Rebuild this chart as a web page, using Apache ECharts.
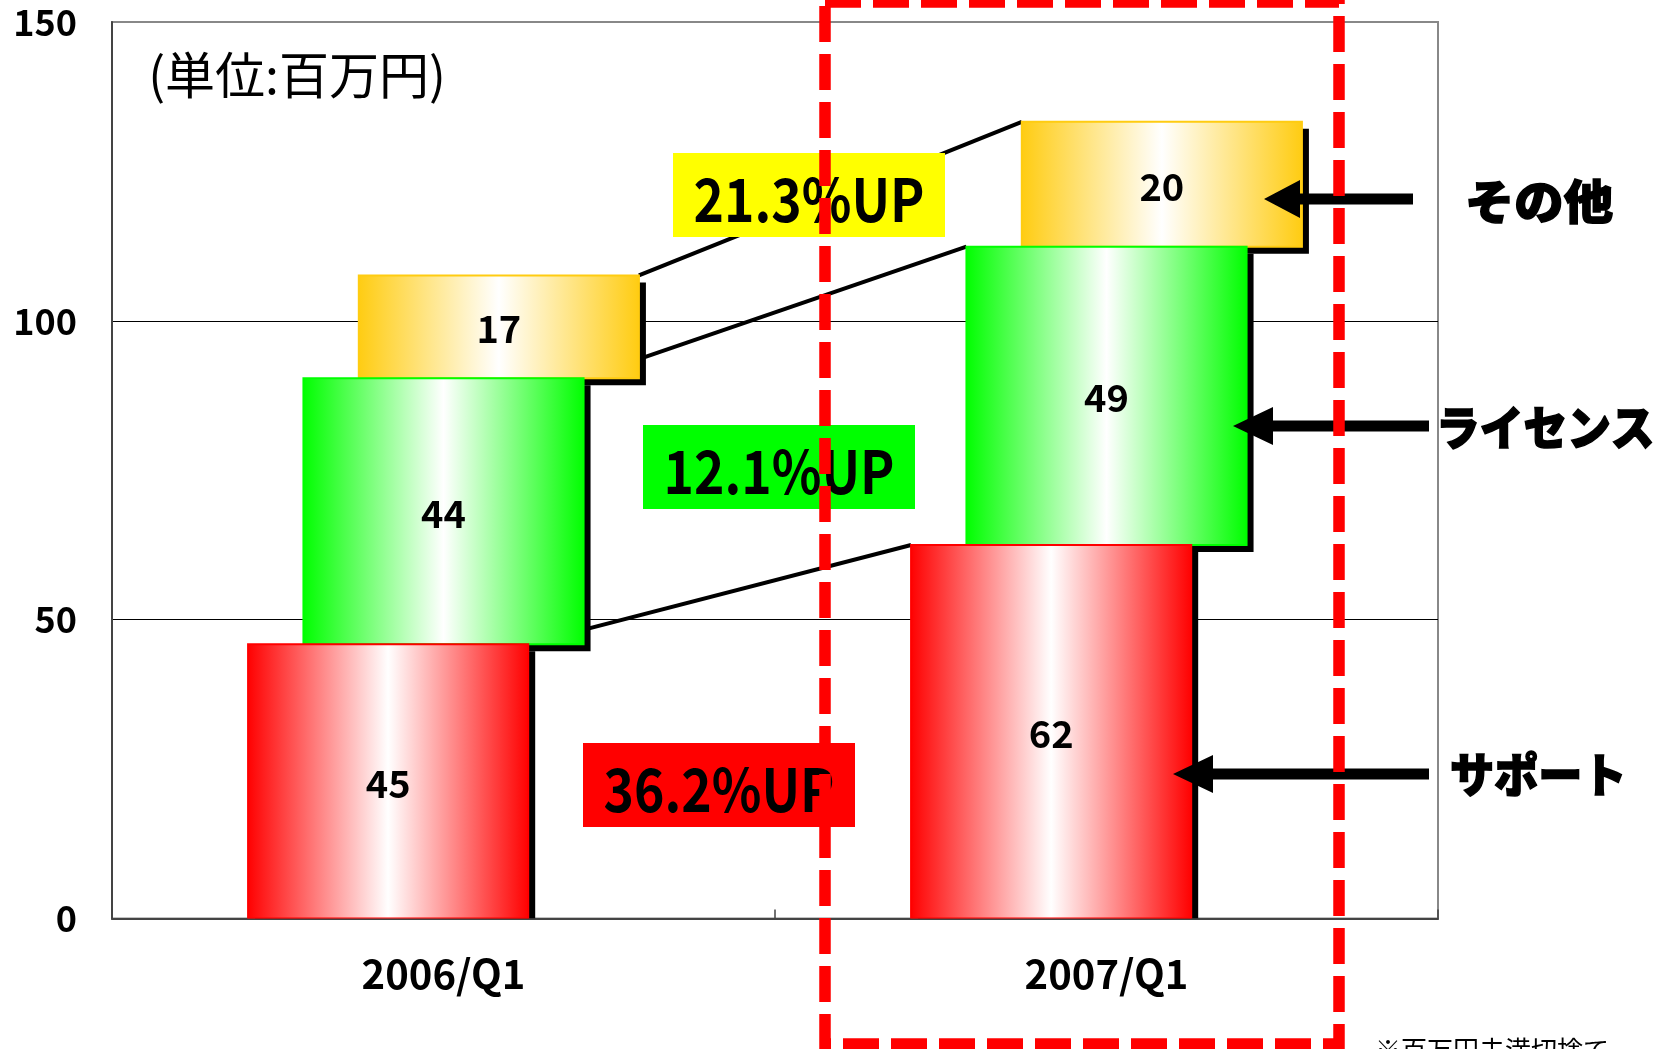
<!DOCTYPE html>
<html>
<head>
<meta charset="utf-8">
<title>売上推移</title>
<script src="https://cdn.jsdelivr.net/npm/echarts@6/dist/echarts.min.js"></script>
<style>
  html, body { margin: 0; padding: 0; background: #fff; }
  #main { width: 1661px; height: 1049px; }
</style>
</head>
<body>
<div id="main"></div>
<script>
// カテゴリ
const categories = ['2006/Q1', '2007/Q1']
// 売上 (百万円)  ※ラベルは百万円未満切捨て
const support = [45.9, 62.5]
const license = [44.5, 49.9]
const other = [17.2, 20.9]
// 系列名 / 伸び率
const segmentNames = ['サポート', 'ライセンス', 'その他']
const growthLabels = ['36.2%UP', '12.1%UP', '21.3%UP']
// 目盛
const yTicks = [0, 50, 100, 150]

const FONT = 'Noto Sans CJK JP'
const BAR_W = 0.4225 // 棒の幅 (カテゴリ幅に対する比)
const SHIFT = 0.0835 // 段ごとの横ずらし
const segColors = ['#ff0000', '#00ff00', '#ffcc11']

let chart = echarts.init(document.getElementById('main'))

// 積み上げの下端・上端
let layers = [support, license, other]
let bases = [[0, 0], [], []]
for (let i = 1; i < layers.length; i++) {
  for (let c = 0; c < categories.length; c++) {
    bases[i][c] = bases[i - 1][c] + layers[i - 1][c]
  }
}

function grad (color) {
  return new echarts.graphic.LinearGradient(0, 0, 1, 0, [
    {offset: 0, color: color},
    {offset: 0.5, color: '#ffffff'},
    {offset: 1, color: color}
  ])
}

function segRender (layer) {
  return function (params, api) {
    let ci = api.value(0)
    let lo = api.coord([ci, api.value(1)])
    let hi = api.coord([ci, api.value(2)])
    let band = api.size([1, 0])[0]
    let w = band * BAR_W
    let cx = lo[0] + (layer - 1) * SHIFT * band
    let x = cx - w / 2
    let y = hi[1]
    let h = lo[1] - hi[1]
    let cs = params.coordSys
    let bottom = cs.y + cs.height
    let sh = Math.min(h, bottom - y - 7)
    return {
      type: 'group',
      children: [
        {type: 'rect', shape: {x: x + 7, y: y + 7, width: w, height: sh}, style: {fill: '#000'}},
        {type: 'rect', shape: {x: x, y: y, width: w, height: h}, style: {fill: grad(segColors[layer]), stroke: segColors[layer], lineWidth: 2}},
        {
          type: 'text',
          x: cx,
          y: y + h / 2 + 2,
          style: {
            text: String(Math.floor(api.value(3))),
            align: 'center',
            verticalAlign: 'middle',
            fontFamily: FONT,
            fontSize: 38,
            fontWeight: 'bold',
            fill: '#000'
          }
        }
      ]
    }
  }
}

function linkRender (params, api) {
  let layer = api.value(4)
  let band = api.size([1, 0])[0]
  let w = band * BAR_W
  let off = (layer - 1) * SHIFT * band
  let a = api.coord([api.value(0), api.value(1)])
  let b = api.coord([api.value(2), api.value(3)])
  return {
    type: 'line',
    shape: {x1: a[0] + off + w / 2, y1: a[1], x2: b[0] + off - w / 2, y2: b[1]},
    style: {stroke: '#000', lineWidth: 4}
  }
}

let series = []
// 前年→当年 の連結線 (一番下)
let links = []
for (let i = 0; i < layers.length; i++) {
  links.push([0, bases[i][0] + layers[i][0], 1, bases[i][1] + layers[i][1], i])
}
series.push({
  type: 'custom',
  name: 'link',
  z: 1,
  renderItem: linkRender,
  encode: {x: [0, 2], y: [1, 3]},
  data: links,
  silent: true
})
// 上の段から描いて下の段を手前に
for (let i = layers.length - 1; i >= 0; i--) {
  series.push({
    type: 'custom',
    name: segmentNames[i],
    z: 2 + (layers.length - i),
    clip: true,
    renderItem: segRender(i),
    encode: {x: 0, y: [1, 2]},
    data: categories.map((c, ci) => [ci, bases[i][ci], bases[i][ci] + layers[i][ci], layers[i][ci]])
  })
}

// 伸び率の箱
function growthBox (x, y, fill, text) {
  let w = 272
  let h = 84
  return {
    type: 'group',
    x: x,
    y: y,
    z: 50,
    children: [
      {type: 'rect', z: 50, shape: {x: 0, y: 0, width: w, height: h}, style: {fill: fill}},
      {
        type: 'text',
        z: 51,
        x: w / 2,
        y: h / 2 + 4,
        scaleX: 0.86,
        style: {
          text: text,
          align: 'center',
          verticalAlign: 'middle',
          fontFamily: FONT,
          fontSize: 60,
          fontWeight: 'bold',
          fill: '#000'
        }
      }
    ]
  }
}

// 右側の矢印
function arrow (tipX, backX, endX, y) {
  let hh = 19
  let t = 5.5
  return {
    type: 'polygon',
    z: 60,
    shape: {points: [[tipX, y], [backX, y - hh], [backX, y - t], [endX, y - t], [endX, y + t], [backX, y + t], [backX, y + hh]]},
    style: {fill: '#000'}
  }
}

function sideLabel (x, y, text, sx) {
  return {
    type: 'text',
    z: 60,
    x: x,
    y: y,
    scaleX: sx,
    style: {
      text: text,
      align: 'left',
      verticalAlign: 'middle',
      fontFamily: FONT,
      fontSize: 47,
      fontWeight: 900,
      fill: '#000',
      stroke: '#000',
      lineWidth: 1.5,
      textShadowColor: '#a0a0a0',
      textShadowBlur: 0,
      textShadowOffsetX: 3,
      textShadowOffsetY: 3
    }
  }
}

let option = {
  animation: false,
  backgroundColor: '#fff',
  grid: {
    left: 112,
    right: 223,
    top: 22,
    bottom: 130.5,
    show: true,
    borderColor: '#888',
    borderWidth: 2,
    outerBoundsMode: 'none',
    containLabel: false
  },
  xAxis: {
    type: 'category',
    data: categories,
    axisLine: {show: true, lineStyle: {color: '#444', width: 2}},
    axisTick: {show: true, inside: true, length: 9, lineStyle: {color: '#444', width: 1.5}},
    axisLabel: {
      margin: 35,
      color: '#000',
      fontFamily: FONT,
      fontSize: 40,
      fontWeight: 'bold'
    },
    splitLine: {show: false}
  },
  yAxis: {
    type: 'value',
    min: yTicks[0],
    max: yTicks[yTicks.length - 1],
    interval: yTicks[1] - yTicks[0],
    axisLine: {show: true, lineStyle: {color: '#444', width: 2}},
    axisTick: {show: false},
    axisLabel: {
      margin: 35,
      color: '#000',
      fontFamily: FONT,
      fontSize: 36,
      fontWeight: 'bold'
    },
    splitLine: {show: true, lineStyle: {color: ['#444', '#000', '#000', '#888'], width: 1}}
  },
  series: series,
  graphic: [
    {
      type: 'text',
      z: 60,
      x: 297,
      y: 75,
      style: {text: '(単位:百万円)', align: 'center', verticalAlign: 'middle', fontFamily: FONT, fontSize: 50, fill: '#000'}
    },
    growthBox(673, 153, '#ffff00', growthLabels[2]),
    growthBox(643, 425, '#00ff00', growthLabels[1]),
    growthBox(583, 743, '#ff0000', growthLabels[0]),
    arrow(1264, 1300, 1413, 199),
    arrow(1233, 1273, 1429, 426),
    arrow(1173, 1213, 1429, 774),
    sideLabel(1465, 201, segmentNames[2], 1.05),
    sideLabel(1436, 427, segmentNames[1], 0.93),
    sideLabel(1450, 774, segmentNames[0], 0.94),
    {
      type: 'rect',
      z: 100,
      shape: {x: 825, y: 2, width: 514, height: 1042},
      style: {fill: 'none', stroke: '#ff0000', lineWidth: 11.5, lineDash: [36, 12]}
    },
    {
      type: 'text',
      z: 60,
      x: 1375,
      y: 1037,
      style: {text: '※百万円未満切捨て', align: 'left', verticalAlign: 'top', fontFamily: FONT, fontSize: 26, fill: '#000'}
    }
  ]
}
chart.setOption(option)
</script>
</body>
</html>
